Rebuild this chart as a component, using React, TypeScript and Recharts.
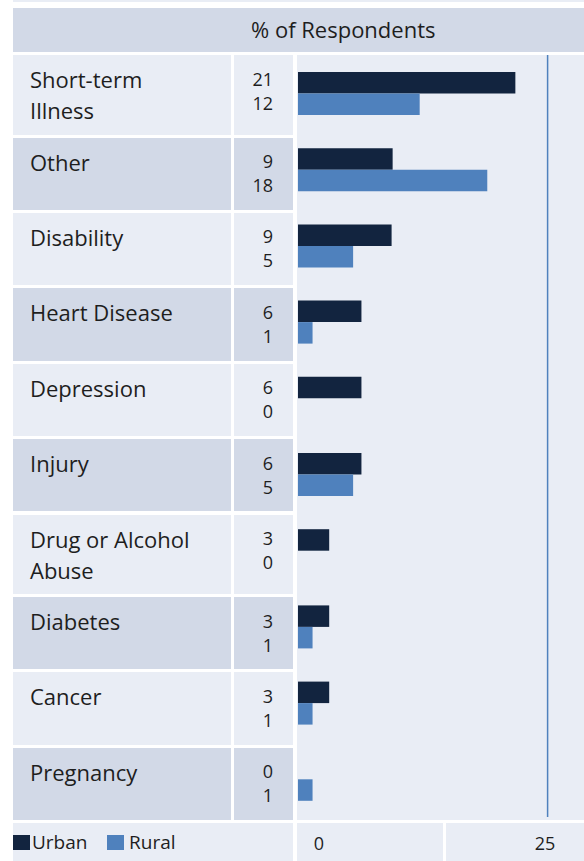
import React from 'react';
import { BarChart, Bar, XAxis, YAxis, ReferenceLine } from 'recharts';

// categories top to bottom, "\n" marks the wrapped labels
const categories = [
  'Short-term\nIllness',
  'Other',
  'Disability',
  'Heart Disease',
  'Depression',
  'Injury',
  'Drug or Alcohol\nAbuse',
  'Diabetes',
  'Cancer',
  'Pregnancy'
];

// % of respondents (bar lengths, labels show rounded values)
const urbanValues = [20.9, 9.1, 9.0, 6.1, 6.1, 6.1, 3.0, 3.0, 3.0, 0];
const ruralValues = [11.7, 18.2, 5.3, 1.4, 0, 5.3, 0, 1.4, 1.4, 1.4];

const seriesNames = ['Urban', 'Rural'];
const axisTickLabels = ['0', '25'];
const markerValue = 24;

const URBAN = '#12243f';
const RURAL = '#4f81bd';
const LIGHT = '#e9edf5';
const DARK = '#d2d9e7';
const TEXT = '#1e1e1e';
const FONT = "'Open Sans', sans-serif";

const App: React.FC = () => {
  const data = categories.map((name, i) => ({
    name,
    urban: urbanValues[i],
    rural: ruralValues[i]
  }));

  // table rows: two-line labels get a taller row
  let top = 55;
  const rows = categories.map((name, i) => {
    const lines = name.split('\n');
    const height = lines.length > 1 ? 79.5 : 72.4;
    const row = { lines, top, height, shaded: i % 2 === 1, i };
    top += height + 3;
    return row;
  });

  return (
    <div
      style={{
        position: 'absolute',
        left: 0,
        top: 0,
        width: 584,
        height: 861,
        overflow: 'hidden',
        background: '#fff',
        fontFamily: FONT,
        color: TEXT
      }}
    >
      {/* strip of the row above, cut off */}
      <div style={{ position: 'absolute', left: 13, top: 0, width: 571, height: 2, background: LIGHT }} />

      {/* header */}
      <div style={{ position: 'absolute', left: 13, top: 8, width: 571, height: 44, background: DARK }}>
        <div style={{ position: 'absolute', left: 238, top: -1, fontSize: 22, lineHeight: '44px', whiteSpace: 'nowrap' }}>
          % of Respondents
        </div>
      </div>

      {/* label + value cells */}
      {rows.map((r) => (
        <React.Fragment key={r.i}>
          <div
            style={{
              position: 'absolute',
              left: 13,
              top: r.top,
              width: 218,
              height: r.height,
              background: r.shaded ? DARK : LIGHT,
              boxSizing: 'border-box',
              paddingLeft: 17,
              paddingTop: 9,
              fontSize: 22,
              lineHeight: '31px'
            }}
          >
            {r.lines.map((l, k) => (
              <div key={k}>{l}</div>
            ))}
          </div>
          <div
            style={{
              position: 'absolute',
              left: 233.5,
              top: r.top,
              width: 59.5,
              height: r.height,
              background: r.shaded ? DARK : LIGHT,
              boxSizing: 'border-box',
              paddingRight: 20,
              paddingTop: 11.5,
              fontSize: 18,
              lineHeight: '24px',
              textAlign: 'right'
            }}
          >
            <div>{Math.round(urbanValues[r.i])}</div>
            <div>{Math.round(ruralValues[r.i])}</div>
          </div>
        </React.Fragment>
      ))}

      {/* chart area */}
      <div style={{ position: 'absolute', left: 296.5, top: 55, width: 288, height: 765, background: LIGHT }} />
      <div style={{ position: 'absolute', left: 296, top: 55 }}>
        <BarChart
          width={288}
          height={762}
          data={data}
          layout="vertical"
          margin={{ top: 0, right: 0, bottom: 0, left: 2 }}
          barGap={0}
          barSize={21.5}
        >
          <XAxis type="number" hide domain={[0, 27.5]} />
          <YAxis type="category" dataKey="name" hide />
          <ReferenceLine x={markerValue} stroke={RURAL} strokeWidth={1.5} />
          <Bar dataKey="urban" name={seriesNames[0]} fill={URBAN} isAnimationActive={false} />
          <Bar dataKey="rural" name={seriesNames[1]} fill={RURAL} isAnimationActive={false} />
        </BarChart>
      </div>

      {/* bottom row: legend + axis labels */}
      <div style={{ position: 'absolute', left: 13, top: 822.5, width: 280, height: 40, background: LIGHT }}>
        <div style={{ position: 'absolute', left: 0, top: 12.5, width: 17, height: 15, background: URBAN }} />
        <div style={{ position: 'absolute', left: 19, top: 9.5, fontSize: 19, lineHeight: '20px' }}>{seriesNames[0]}</div>
        <div style={{ position: 'absolute', left: 94, top: 12.5, width: 17, height: 15, background: RURAL }} />
        <div style={{ position: 'absolute', left: 116, top: 9.5, fontSize: 19, lineHeight: '20px' }}>{seriesNames[1]}</div>
      </div>
      <div style={{ position: 'absolute', left: 296.5, top: 822.5, width: 146.5, height: 40, background: LIGHT }}>
        <div style={{ position: 'absolute', left: 2.5, top: 10.5, width: 40, textAlign: 'center', fontSize: 18, lineHeight: '20px' }}>
          {axisTickLabels[0]}
        </div>
      </div>
      <div style={{ position: 'absolute', left: 446, top: 822.5, width: 138, height: 40, background: LIGHT }}>
        <div style={{ position: 'absolute', left: 79, top: 10.5, width: 40, textAlign: 'center', fontSize: 18, lineHeight: '20px' }}>
          {axisTickLabels[1]}
        </div>
      </div>
    </div>
  );
};

export default App;
